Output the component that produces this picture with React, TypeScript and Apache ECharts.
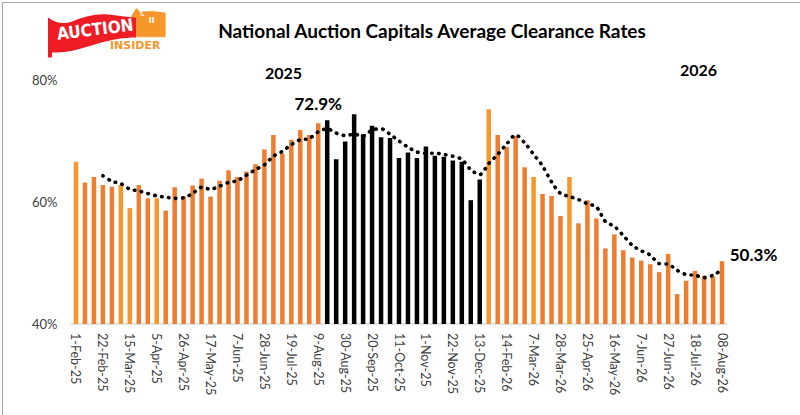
import React, { useEffect, useRef } from "react";
import * as echarts from "echarts";

const categories = [
  "1-Feb-25", "8-Feb-25", "15-Feb-25", "22-Feb-25", "1-Mar-25", "8-Mar-25", "15-Mar-25", "22-Mar-25", "29-Mar-25",
  "5-Apr-25", "12-Apr-25", "19-Apr-25", "26-Apr-25", "3-May-25", "10-May-25", "17-May-25", "24-May-25", "31-May-25",
  "7-Jun-25", "14-Jun-25", "21-Jun-25", "28-Jun-25", "5-Jul-25", "12-Jul-25", "19-Jul-25", "26-Jul-25", "2-Aug-25",
  "9-Aug-25", "16-Aug-25", "23-Aug-25", "30-Aug-25", "6-Sep-25", "13-Sep-25", "20-Sep-25", "27-Sep-25", "4-Oct-25",
  "11-Oct-25", "18-Oct-25", "25-Oct-25", "1-Nov-25", "8-Nov-25", "15-Nov-25", "22-Nov-25", "29-Nov-25", "6-Dec-25",
  "13-Dec-25", "20-Dec-25", "7-Feb-26", "14-Feb-26", "21-Feb-26", "28-Feb-26", "7-Mar-26", "14-Mar-26", "21-Mar-26",
  "28-Mar-26", "11-Apr-26", "18-Apr-26", "25-Apr-26", "2-May-26", "9-May-26", "16-May-26", "23-May-26", "30-May-26",
  "7-Jun-26", "13-Jun-26", "20-Jun-26", "27-Jun-26", "4-Jul-26", "11-Jul-26", "18-Jul-26", "25-Jul-26", "1-Aug-26",
  "08-Aug-26",
];

const clearanceRates = [
  66.6, 63.2, 64.1, 62.8, 62.5, 62.8, 59.0, 62.8, 60.6,
  60.6, 58.6, 62.4, 60.9, 62.7, 63.8, 60.9, 63.5, 65.2,
  64.1, 65.0, 66.2, 68.6, 71.0, 67.9, 70.2, 71.8, 71.0,
  72.9, 73.4, 67.0, 69.9, 74.4, 71.1, 72.5, 70.6, 70.5,
  67.2, 68.1, 67.2, 69.1, 67.6, 67.4, 66.8, 66.6, 60.3,
  63.7, 75.2, 71.0, 69.0, 70.8, 65.7, 64.1, 61.3, 61.0,
  57.7, 64.1, 56.5, 60.3, 57.3, 52.4, 54.7, 52.1, 50.9,
  50.4, 49.8, 48.5, 51.5, 44.9, 47.1, 48.7, 47.9, 47.8,
  50.3,
];

const trendRates = [
  null, null, null, 64.3, 63.4, 63.0, 62.1, 61.8, 61.4,
  61.0, 60.8, 60.6, 60.7, 61.4, 62.4, 62.1, 62.6, 63.2,
  63.5, 64.4, 65.3, 66.1, 67.5, 68.3, 69.4, 70.2, 70.4,
  71.5, 72.0, 71.3, 70.9, 71.1, 70.8, 71.8, 72.0, 71.1,
  70.0, 69.0, 68.2, 68.0, 68.0, 67.8, 67.5, 67.0, 65.3,
  64.5, 66.3, 67.8, 69.5, 71.0, 69.7, 67.8, 65.9, 63.3,
  61.4, 60.9, 60.4, 59.7, 59.2, 56.8, 56.0, 54.5, 52.9,
  52.0, 51.3, 49.9, 49.8, 48.8, 48.1, 48.0, 47.6, 48.0,
  48.9,
];

// weeks shown in a lighter orange
const lighterWeeks = [0, 5, 6, 9, 46, 51, 55];
// weeks drawn in black (first and last index, inclusive)
const blackWeeks = [28, 45];
// bars that carry a value label
const peakIndex = 27;
const latestIndex = 72;

const yTicks = [40, 60, 80];
const yearLabels = ["2025", "2026"];

const FONT = "Lato, 'Noto Sans', sans-serif";

echarts.graphic.registerShape(
  "aiFlag",
  echarts.graphic.extendPath(
    "M0,0 C8,6 16,7 24,4 C36,-1 48,-4 60,-3 C72,-2 82,0 88,0 L88,20 C76,20 64,22 50,26 C36,30 20,36 4,35 L4,40 L0,40 Z",
    {}
  )
);
echarts.graphic.registerShape(
  "aiHouse",
  echarts.graphic.extendPath(
    "M8,0 L16,8 L13,8 L13,4 C20,3 28,3 38,5 L38,30 L6,30 L6,14 L0,14 Z",
    {}
  )
);

export default function App() {
  const ref = useRef<HTMLDivElement>(null);

  useEffect(() => {
    if (!ref.current) return;
    const chart = echarts.init(ref.current, null, { renderer: "svg" });

    const barData = clearanceRates.map((v, i) => {
      let color = "#ED7D31";
      if (lighterWeeks.includes(i)) color = "#F7962B";
      if (i >= blackWeeks[0] && i <= blackWeeks[1]) color = "#000000";
      const item: any = { value: v, itemStyle: { color } };
      if (i === peakIndex) {
        item.label = {
          show: true,
          position: "top",
          distance: 11,
          formatter: (p: any) => p.value.toFixed(1) + "%",
          fontFamily: FONT,
          fontWeight: "bold",
          fontSize: 17,
          color: "#000",
        };
      }
      if (i === latestIndex) {
        item.label = {
          show: true,
          position: [10, -7],
          align: "left",
          verticalAlign: "middle",
          formatter: (p: any) => p.value.toFixed(1) + "%",
          fontFamily: FONT,
          fontWeight: "bold",
          fontSize: 17,
          color: "#000",
        };
      }
      return item;
    });

    chart.setOption({
      animation: false,
      backgroundColor: "#ffffff",
      title: {
        text: "National Auction Capitals Average Clearance Rates",
        left: 427,
        top: 16,
        textAlign: "center",
        textStyle: { fontFamily: FONT, fontWeight: "bold", fontSize: 19, color: "#000" },
      },
      grid: { left: 71.5, top: 80, width: 655, height: 244, containLabel: false },
      xAxis: {
        type: "category",
        data: categories,
        boundaryGap: true,
        axisLine: { lineStyle: { color: "#D9D9D9", width: 1.5 } },
        axisTick: { show: false },
        axisLabel: {
          interval: 2,
          rotate: -90,
          margin: 9,
          fontFamily: FONT,
          fontSize: 12.5,
          color: "#404040",
        },
      },
      yAxis: {
        type: "value",
        min: yTicks[0],
        max: yTicks[yTicks.length - 1],
        interval: yTicks[1] - yTicks[0],
        axisLine: { show: false },
        axisTick: { show: false },
        splitLine: { show: false },
        axisLabel: {
          formatter: (v: number) => v + "%",
          margin: 14,
          fontFamily: FONT,
          fontSize: 13,
          color: "#404040",
        },
      },
      series: [
        {
          type: "bar",
          data: barData,
          barWidth: 4.5,
          z: 2,
        },
        {
          type: "line",
          data: trendRates,
          smooth: 0.3,
          showSymbol: false,
          symbol: "none",
          connectNulls: false,
          lineStyle: { color: "#000", width: 3.6, type: [0.5, 6.5], cap: "round" },
          z: 3,
        },
      ],
      graphic: [
        {
          type: "rect",
          left: 0,
          top: 0,
          shape: { x: 0.5, y: 0.5, width: 798, height: 413 },
          style: { fill: "none", stroke: "#A6A6A6", lineWidth: 1 },
          silent: true,
        },
        {
          type: "text",
          left: 265,
          top: 64,
          style: { text: yearLabels[0], fontFamily: FONT, fontWeight: "bold", fontSize: 16, fill: "#000" },
        },
        {
          type: "text",
          left: 680,
          top: 61,
          style: { text: yearLabels[1], fontFamily: FONT, fontWeight: "bold", fontSize: 16, fill: "#000" },
        },
        {
          type: "group",
          left: 48,
          top: 7,
          children: [
            {
              type: "aiHouse",
              x: 82,
              y: 1,
              style: { fill: "#F7962B", stroke: "#ffffff", lineWidth: 0.8 },
            },
            { type: "rect", shape: { x: 103, y: 11, width: 2.2, height: 2.2 }, style: { fill: "#fff" } },
            { type: "rect", shape: { x: 106, y: 11, width: 2.2, height: 2.2 }, style: { fill: "#fff" } },
            { type: "rect", shape: { x: 103, y: 14, width: 2.2, height: 2.2 }, style: { fill: "#fff" } },
            { type: "rect", shape: { x: 106, y: 14, width: 2.2, height: 2.2 }, style: { fill: "#fff" } },
            {
              type: "aiFlag",
              x: 2,
              y: 11,
              style: { fill: "#EE1C25" },
            },
            {
              type: "text",
              x: 10,
              y: 19,
              rotation: 0.12,
              style: {
                text: "AUCTION",
                fontFamily: "'Liberation Sans Narrow', 'DejaVu Sans Condensed', sans-serif",
                fontWeight: "bold",
                fontSize: 17,
                fill: "#fff",
              },
            },
            {
              type: "text",
              x: 64,
              y: 34,
              style: {
                text: "INSIDER",
                fontFamily: "'DejaVu Sans', sans-serif",
                fontWeight: "bold",
                fontSize: 11,
                fill: "#F7962B",
              },
            },
          ],
        },
      ],
    });

    return () => chart.dispose();
  }, []);

  return (
    <div
      ref={ref}
      style={{ position: "absolute", left: 0, top: 0, width: 800, height: 415, background: "#fff" }}
    />
  );
}
